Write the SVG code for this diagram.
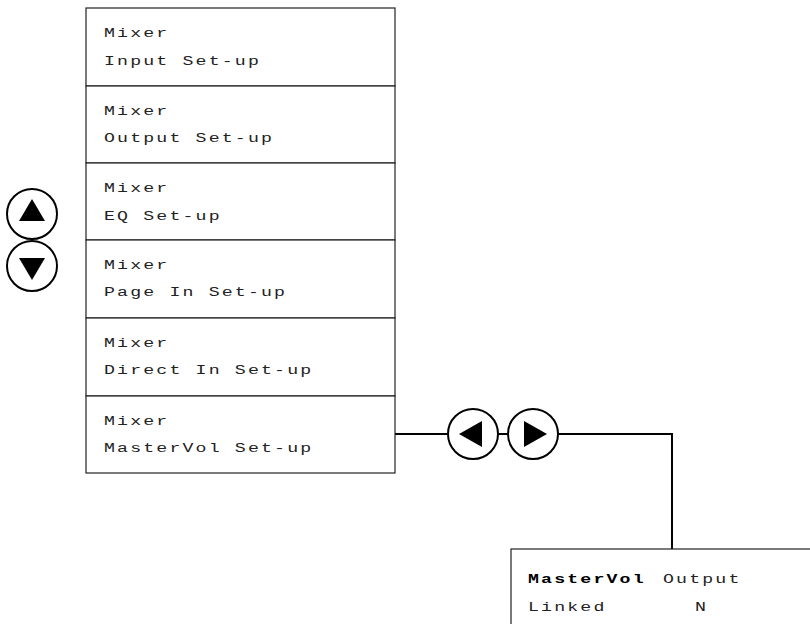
<svg xmlns="http://www.w3.org/2000/svg" width="810" height="624" viewBox="0 0 810 624">
<style>
.box{fill:#fff;stroke:#222;stroke-width:1.2}
.t{font-family:"Liberation Mono","DejaVu Sans Mono",monospace;font-size:13.5px;letter-spacing:1.6px;fill:#222}
.b{font-weight:bold;fill:#000}
.btn{fill:#fff;stroke:#000;stroke-width:2}
.tri{fill:#000}
.conn{fill:none;stroke:#000;stroke-width:2}
</style>
<rect width="810" height="624" fill="#fff"/>
<g id="connectors">
<path class="conn" d="M395,434 H447 M499,434 H507 M558,434 H672 V549"/>
</g>
<g id="menu-input"><rect class="box" x="86" y="8" width="309" height="78"/><text class="t" transform="scale(1.35,1)" x="77.04" y="37">Mixer</text><text class="t" transform="scale(1.35,1)" x="77.04" y="65">Input Set-up</text></g>
<g id="menu-output"><rect class="box" x="86" y="86" width="309" height="77"/><text class="t" transform="scale(1.35,1)" x="77.04" y="115">Mixer</text><text class="t" transform="scale(1.35,1)" x="77.04" y="142">Output Set-up</text></g>
<g id="menu-eq"><rect class="box" x="86" y="163" width="309" height="77"/><text class="t" transform="scale(1.35,1)" x="77.04" y="192">Mixer</text><text class="t" transform="scale(1.35,1)" x="77.04" y="220">EQ Set-up</text></g>
<g id="menu-page"><rect class="box" x="86" y="240" width="309" height="78"/><text class="t" transform="scale(1.35,1)" x="77.04" y="269">Mixer</text><text class="t" transform="scale(1.35,1)" x="77.04" y="296">Page In Set-up</text></g>
<g id="menu-direct"><rect class="box" x="86" y="318" width="309" height="78"/><text class="t" transform="scale(1.35,1)" x="77.04" y="347">Mixer</text><text class="t" transform="scale(1.35,1)" x="77.04" y="374">Direct In Set-up</text></g>
<g id="menu-mastervol"><rect class="box" x="86" y="396" width="309" height="77"/><text class="t" transform="scale(1.35,1)" x="77.04" y="425">Mixer</text><text class="t" transform="scale(1.35,1)" x="77.04" y="452">MasterVol Set-up</text></g>
<g id="btn-up"><circle class="btn" cx="32" cy="214" r="25"/><polygon class="tri" points="32,199 45,221 19,221"/></g>
<g id="btn-down"><circle class="btn" cx="32" cy="266" r="25"/><polygon class="tri" points="19,258 45,258 32,280"/></g>
<g id="btn-left"><circle class="btn" cx="473" cy="434" r="25"/><polygon class="tri" points="459,434 482,421 482,447"/></g>
<g id="btn-right"><circle class="btn" cx="533" cy="434" r="25"/><polygon class="tri" points="524,421 524,447 547,434"/></g>
<g id="mastervol-output"><rect class="box" x="511" y="549" width="320" height="100"/><text class="t b" transform="scale(1.35,1)" x="391.1" y="583">MasterVol</text><text class="t" transform="scale(1.35,1)" x="491.1" y="583">Output</text><text class="t" transform="scale(1.35,1)" x="391.1" y="611">Linked</text><text class="t" transform="scale(1.35,1)" x="514.8" y="611">N</text></g>
</svg>
